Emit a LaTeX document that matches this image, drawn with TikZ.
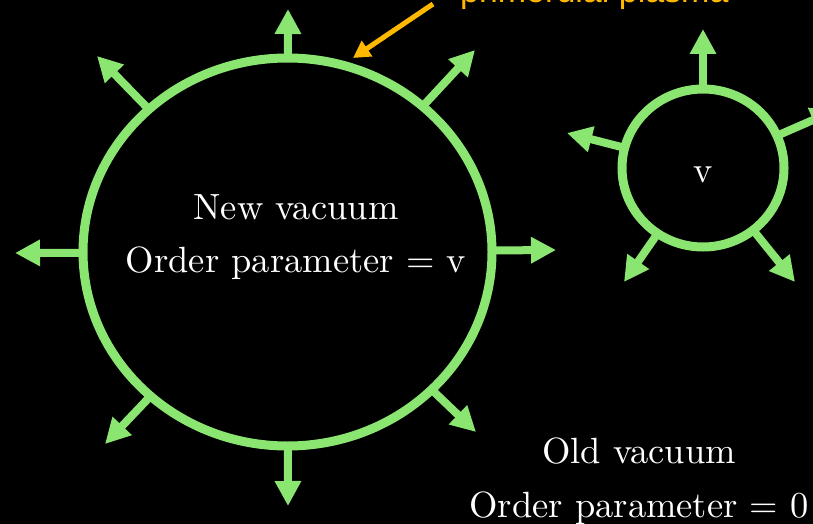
\documentclass[tikz,border=0pt]{standalone}
\usepackage{fontspec}
\setmainfont{lmroman10-regular}[Extension=.otf]
\newfontfamily\labelsans{Liberation Sans}
\usetikzlibrary{arrows.meta,shapes.geometric}
\definecolor{bubblegreen}{RGB}{138,230,112}
\definecolor{plasmaorange}{RGB}{255,184,0}
\begin{document}
\begin{tikzpicture}[x=1pt,y=-1pt,
  bubble/.style={draw=bubblegreen, ellipse, line width=9pt, inner sep=0pt, outer sep=0pt},
  push/.style={draw=bubblegreen, line width=8pt, -{Triangle[length=25pt,width=25pt]}, bubblegreen},
  caption/.style={text=white, inner sep=0pt, anchor=base, font=\fontsize{36.5}{44}\selectfont},
  pointer/.style={draw=plasmaorange, line width=5pt, -{Triangle[length=17pt,width=18pt]}, plasmaorange}]
\fill[black] (0,0) rectangle (813,524);
\clip (0,0) rectangle (813,524);
\useasboundingbox (0,0) rectangle (813,524);

% big bubble
\node[bubble, minimum width=409pt, minimum height=388pt] (big) at (287.5,252) {};
\coordinate (bT) at (288,9);
\coordinate (bUR) at (475,50);
\coordinate (bR) at (556,250);
\coordinate (bLR) at (476,432);
\coordinate (bB) at (288,506);
\coordinate (bLL) at (105,444);
\coordinate (bL) at (15,253);
\coordinate (bUL) at (97,56);
\foreach \t in {bT,bUR,bR,bLR,bB,bLL,bL,bUL} \draw[push] (big) -- (\t);

% small bubble
\node[bubble, minimum width=162pt, minimum height=158pt] (small) at (703,168) {};
\coordinate (sT) at (703,29);
\coordinate (sUR) at (836,110);
\coordinate (sLR) at (795,282);
\coordinate (sLL) at (624,282);
\coordinate (sL) at (567,133);
\foreach \t in {sT,sUR,sLR,sLL,sL} \draw[push] (small) -- (\t);

% texts
\node[caption] (new1) at (296,219) {New vacuum};
\node[caption] (new2) at (296,272) {Order parameter = v};
\node[caption] (sv) at (703,182) {v};
\node[caption] (old1) at (639,463) {Old vacuum};
\node[caption] (old2) at (639,517) {Order parameter = 0};

% primordial plasma label
\node[text=plasmaorange, inner sep=0pt, anchor=base west, font=\labelsans\fontsize{34}{40}\selectfont] (plasma) at (460,2.5) {primordial plasma};
\coordinate (pstart) at (433,4);
\coordinate (pend) at (353,58);
\draw[pointer] (pstart) -- (pend);
\end{tikzpicture}
\end{document}
